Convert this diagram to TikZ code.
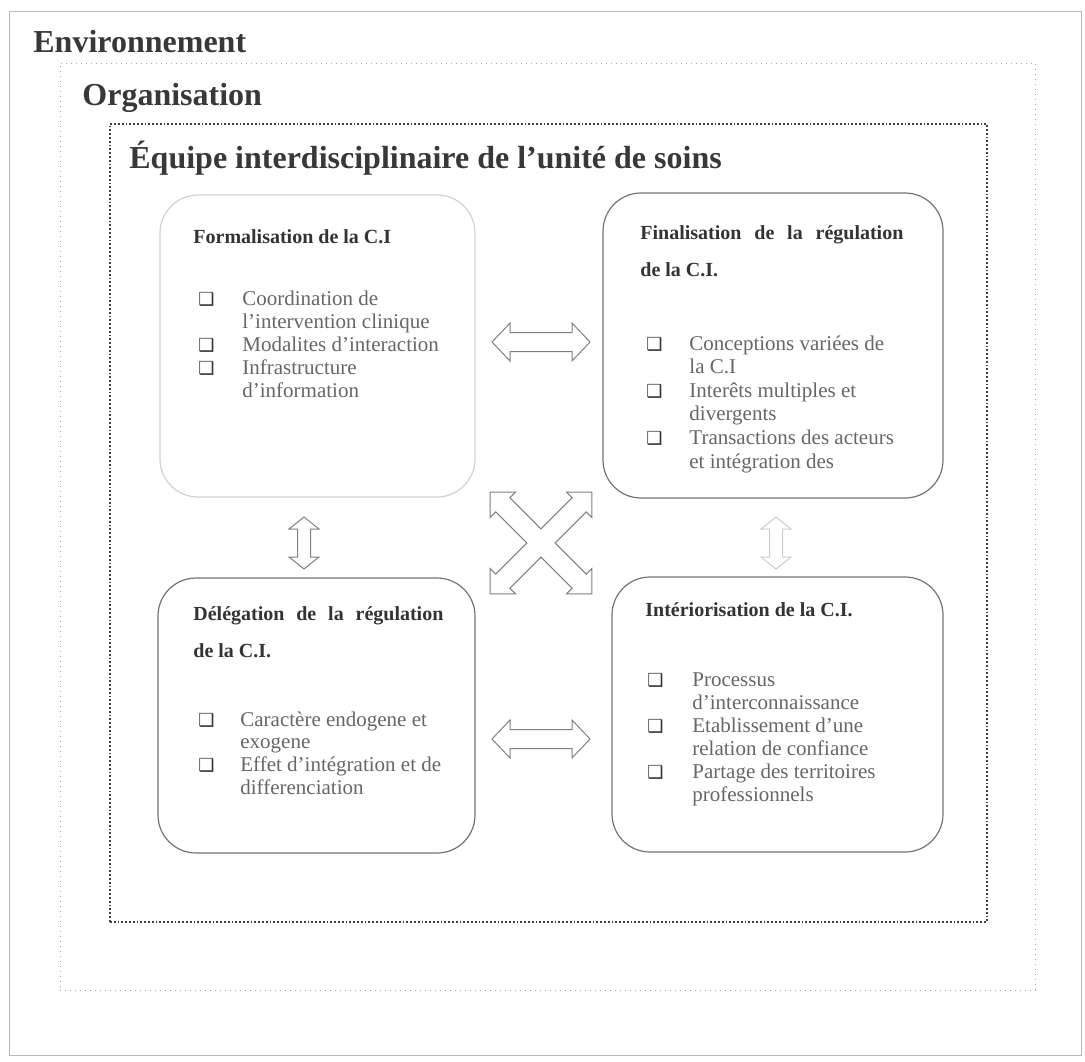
\documentclass[tikz,border=0pt]{standalone}
\usepackage{fontspec}
\setmainfont{Liberation Serif}
\newfontfamily\symfont{DejaVu Sans}
\newcommand\bul{\leavevmode{\symfont\fontsize{9}{9}\selectfont\color{black!80}❑}}
\newcommand\itemfont{\fontsize{10.5}{11.5}\selectfont}
\newcommand\ttlfont{\fontsize{10}{18.5}\selectfont\bfseries}
% double block arrow: half length, head length, head half width, shaft half width
\newcommand\darrow[4]{(-#1,0) -- (-#1+#2,#3) -- (-#1+#2,#4) -- (#1-#2,#4) -- (#1-#2,#3) -- (#1,0) -- (#1-#2,-#3) -- (#1-#2,-#4) -- (-#1+#2,-#4) -- (-#1+#2,-#3) -- cycle}
% cross of two double arrows (outline of the union)
\newcommand\xcross[4]{(#1,0) -- (#1-#2,-#3) -- (#1-#2,-#4) -- (#4,-#4) -- (#4,-#1+#2) -- (#3,-#1+#2) -- (0,-#1) -- (-#3,-#1+#2) -- (-#4,-#1+#2) -- (-#4,-#4) -- (-#1+#2,-#4) -- (-#1+#2,-#3) -- (-#1,0) -- (-#1+#2,#3) -- (-#1+#2,#4) -- (-#4,#4) -- (-#4,#1-#2) -- (-#3,#1-#2) -- (0,#1) -- (#3,#1-#2) -- (#4,#1-#2) -- (#4,#4) -- (#1-#2,#4) -- (#1-#2,#3) -- cycle}
\begin{document}
\begin{tikzpicture}[x=0.5pt,y=-0.5pt,
  envframe/.style={draw=black!28, line width=0.5pt, rectangle, inner sep=0pt},
  orgframe/.style={draw=black!35, dotted, line width=0.5pt, rectangle, inner sep=0pt},
  eqframe/.style={draw=black!75, densely dotted, line width=0.9pt, rectangle, inner sep=0pt},
  hdr/.style={anchor=base west, inner sep=0pt, text=black!78, font=\fontsize{16}{19}\selectfont\bfseries},
  cibox/.style={draw=black!55, line width=0.6pt, rounded corners=19pt, rectangle, inner sep=0pt},
  lightbox/.style={cibox, draw=black!18},
  ttl/.style={anchor=base west, inner sep=0pt, text=black!80, font=\ttlfont},
  lst/.style={anchor=base west, inner sep=0pt, text=black!60, font=\itemfont},
  blockarrow/.style={draw=black!50, fill=white, line width=0.5pt, line join=miter},
  faintarrow/.style={blockarrow, draw=black!20},
]
\useasboundingbox (0,0) rectangle (1085,1061);

% frames
\node[envframe, minimum width=536pt, minimum height=522pt] (env) at (545,533.5) {};
\node[orgframe, minimum width=487.5pt, minimum height=463.5pt] (org) at (547.5,526.5) {};
\node[eqframe, minimum width=438.5pt, minimum height=399pt] (eq) at (548.5,523) {};

\node[hdr] (envlbl) at (33,52) {Environnement};
\node[hdr] (orglbl) at (82,105) {Organisation};
\node[hdr] (eqlbl) at (129,168) {Équipe interdisciplinaire de l’unité de soins};

% boxes
\node[lightbox, minimum width=157.5pt, minimum height=151pt] (b1) at (317.5,346) {};
\node[cibox, minimum width=170pt, minimum height=152.5pt] (b2) at (773,345.5) {};
\node[cibox, minimum width=158.5pt, minimum height=137.5pt] (b3) at (316.5,715.5) {};
\node[cibox, minimum width=165.5pt, minimum height=137.5pt] (b4) at (777.5,714.5) {};

% box 1
\node[ttl] (t1) at (193,243) {Formalisation de la C.I};
\node[lst] (l1) at (198,305) {\begin{tabular}[t]{@{}p{22pt}@{}l@{}}
\bul & Coordination de\\
 & l’intervention clinique\\
\bul & Modalites d’interaction\\
\bul & Infrastructure\\
 & d’information
\end{tabular}};

% box 2
\node[ttl] (t2) at (640,239) {\begin{tabular}[t]{@{}l@{}}
\makebox[131.5pt][s]{Finalisation de la régulation}\\
de la C.I.
\end{tabular}};
\node[lst, font=\fontsize{10.5}{11.8}\selectfont] (l2) at (646,350) {\begin{tabular}[t]{@{}p{21.5pt}@{}l@{}}
\bul & Conceptions variées de\\
 & la C.I\\
\bul & Interêts multiples et\\
 & divergents\\
\bul & Transactions des acteurs\\
 & et intégration des
\end{tabular}};

% box 3
\node[ttl] (t3) at (193,620) {\begin{tabular}[t]{@{}l@{}}
\makebox[125pt][s]{Délégation de la régulation}\\
de la C.I.
\end{tabular}};
\node[lst, font=\fontsize{10.5}{11.35}\selectfont] (l3) at (198,726) {\begin{tabular}[t]{@{}p{21pt}@{}l@{}}
\bul & Caractère endogene et\\
 & exogene\\
\bul & Effet d’intégration et de\\
 & differenciation
\end{tabular}};

% box 4
\node[ttl] (t4) at (645,616) {Intériorisation de la C.I.};
\node[lst] (l4) at (647,686) {\begin{tabular}[t]{@{}p{22.5pt}@{}l@{}}
\bul & Processus\\
 & d’interconnaissance\\
\bul & Etablissement d’une\\
 & relation de confiance\\
\bul & Partage des territoires\\
 & professionnels
\end{tabular}};

% block arrows
\coordinate (hTop) at (541,342);
\coordinate (hBot) at (541,739);
\coordinate (vL) at (304,543);
\coordinate (vR) at (776,543);
\coordinate (xC) at (541,543);

\path[blockarrow, shift={(hTop)}] \darrow{49}{18}{19}{9.5};
\path[blockarrow, shift={(hBot)}] \darrow{49}{18}{19}{9.5};
\path[blockarrow, shift={(vL)}, rotate=90] \darrow{26}{12}{15}{6.5};
\path[faintarrow, shift={(vR)}, rotate=90] \darrow{26}{12}{15}{6.5};
\path[blockarrow, shift={(xC)}, rotate=45] \xcross{72}{18}{18}{10};
\end{tikzpicture}
\end{document}
